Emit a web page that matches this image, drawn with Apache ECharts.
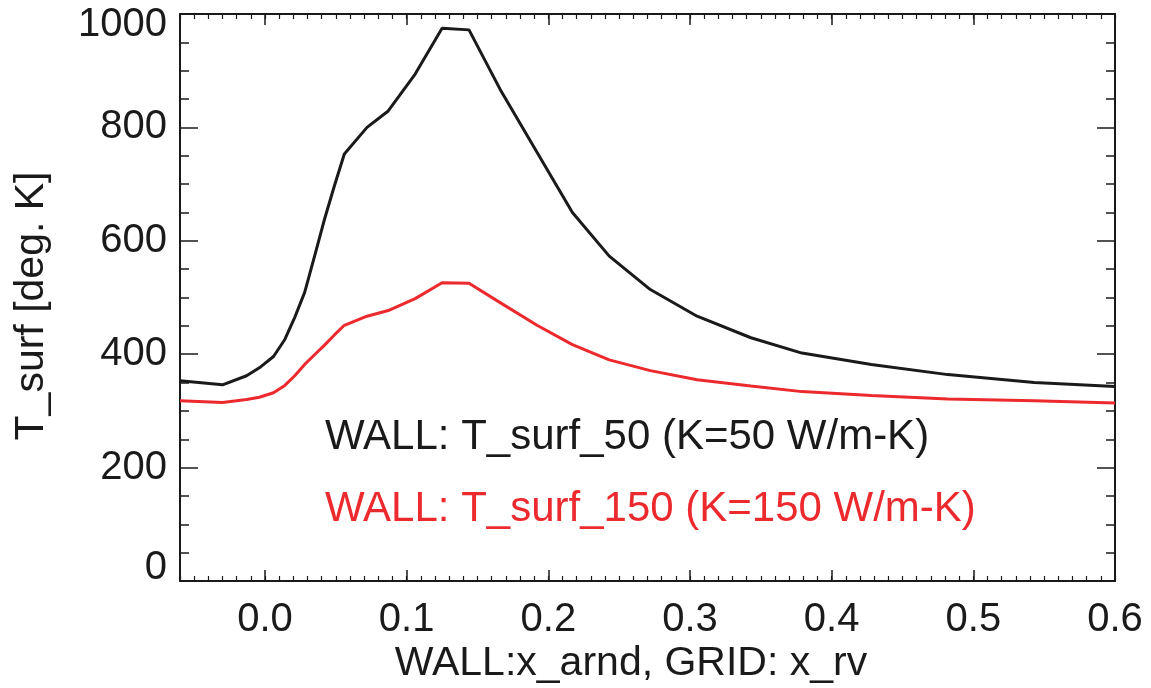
<!DOCTYPE html>
<html>
<head>
<meta charset="utf-8">
<style>
  html, body { margin: 0; padding: 0; background: #ffffff; }
  #chart { width: 1151px; height: 688px; }
</style>
<script src="https://cdn.jsdelivr.net/npm/echarts@6/dist/echarts.min.js"></script>
</head>
<body>
<div id="chart"></div>
<script>
// Wall coordinate (x_arnd) of the sampled grid points
const xArnd = [-0.06, -0.03, -0.013, -0.004, 0.006, 0.014, 0.021, 0.028, 0.035, 0.042,
  0.049, 0.056, 0.072, 0.087, 0.106, 0.125, 0.144, 0.166, 0.192, 0.217,
  0.243, 0.272, 0.305, 0.343, 0.379, 0.428, 0.482, 0.543, 0.6];

// Surface temperature [K], wall conductivity 50 W/m-K
const tSurf50 = [353, 346, 362, 376, 396, 426, 465, 509, 573, 638,
  697, 753, 800, 829, 894, 975, 972, 867, 756, 650,
  573, 514, 467, 429, 402, 382, 364, 350, 343];

// Surface temperature [K], wall conductivity 150 W/m-K
const tSurf150 = [318, 315, 320, 324, 332, 345, 362, 382, 399, 416,
  434, 451, 467, 477, 498, 526, 525, 491, 451, 417,
  390, 371, 355, 344, 334, 327, 321, 318, 314];

const yTickValues = [0, 200, 400, 600, 800, 1000];

const FONT = '"Liberation Sans", Arial, Helvetica, sans-serif';
const INK = '#1a1a1a';
const RED = '#ec2a2e';

const pair = (xs, ys) => xs.map((x, i) => [x, ys[i]]);

const xRange = { min: -0.06, max: 0.6 };
const yRange = { min: yTickValues[0], max: yTickValues[yTickValues.length - 1] };

function majorX(position, withLabels) {
  return {
    type: 'value', position, ...xRange,
    axisLine: { show: true, onZero: false, lineStyle: { color: INK, width: 2 } },
    axisTick: { show: true, inside: true, length: 11, lineStyle: { color: INK, width: 1.5 } },
    splitLine: { show: false },
    axisLabel: {
      show: withLabels, margin: 19, color: INK, fontFamily: FONT, fontSize: 40,
      formatter: v => {
        const k = Math.round(v * 10);
        return Math.abs(v * 10 - k) < 1e-6 ? (k / 10).toFixed(1) : '';
      }
    }
  };
}

function minorX(position) {
  return {
    type: 'value', position, ...xRange, interval: 0.01,
    axisLine: { show: false, onZero: false },
    axisTick: { show: true, inside: true, length: 5, lineStyle: { color: INK, width: 1.2 } },
    splitLine: { show: false },
    axisLabel: { show: false }
  };
}

function yAx(position, withLabels) {
  return {
    type: 'value', position, ...yRange, interval: 200,
    axisLine: { show: true, onZero: false, lineStyle: { color: INK, width: 2 } },
    axisTick: { show: true, inside: true, length: 18, lineStyle: { color: INK, width: 1.5 } },
    minorTick: { show: true, splitNumber: 4, length: 9, lineStyle: { color: INK, width: 1.5 } },
    splitLine: { show: false },
    axisLabel: {
      show: withLabels, margin: 13, color: INK, fontFamily: FONT, fontSize: 40,
      formatter: v => v === yRange.min ? '{lo|' + v + '}' : (v === yRange.max ? '{hi|' + v + '}' : String(v)),
      rich: {
        lo: { fontFamily: FONT, fontSize: 40, color: INK, padding: [0, 0, 26, 0] },
        hi: { fontFamily: FONT, fontSize: 40, color: INK, padding: [22, 0, 0, 0] }
      }
    }
  };
}

const chart = echarts.init(document.getElementById('chart'), null, { renderer: 'canvas' });

chart.setOption({
  backgroundColor: '#ffffff',
  animation: false,
  grid: { left: 180, right: 36, top: 14, bottom: 107, containLabel: false },
  xAxis: [majorX('bottom', true), minorX('bottom'), majorX('top', false), minorX('top')],
  yAxis: [yAx('left', true), yAx('right', false)],
  series: [
    {
      name: 'WALL: T_surf_50 (K=50 W/m-K)', type: 'line', xAxisIndex: 0, yAxisIndex: 0,
      data: pair(xArnd, tSurf50), showSymbol: false, smooth: false,
      lineStyle: { color: INK, width: 3 }, itemStyle: { color: INK }
    },
    {
      name: 'WALL: T_surf_150 (K=150 W/m-K)', type: 'line', xAxisIndex: 0, yAxisIndex: 0,
      data: pair(xArnd, tSurf150), showSymbol: false, smooth: false,
      lineStyle: { color: RED, width: 3 }, itemStyle: { color: RED }
    }
  ],
  graphic: [
    {
      type: 'text', left: 325, top: 416,
      style: { text: 'WALL: T_surf_50 (K=50 W/m-K)', fill: INK, font: '42px ' + FONT }
    },
    {
      type: 'text', left: 325, top: 488,
      style: { text: 'WALL: T_surf_150 (K=150 W/m-K)', fill: RED, font: '42px ' + FONT }
    },
    {
      type: 'text', x: 631, y: 664,
      style: { text: 'WALL:x_arnd, GRID: x_rv', fill: INK, font: '41px ' + FONT,
        textAlign: 'center', textVerticalAlign: 'middle' }
    },
    {
      type: 'text', x: 32, y: 306, rotation: Math.PI / 2,
      style: { text: 'T_surf [deg. K]', fill: INK, font: '41px ' + FONT,
        textAlign: 'center', textVerticalAlign: 'middle' }
    }
  ]
});
</script>
</body>
</html>
